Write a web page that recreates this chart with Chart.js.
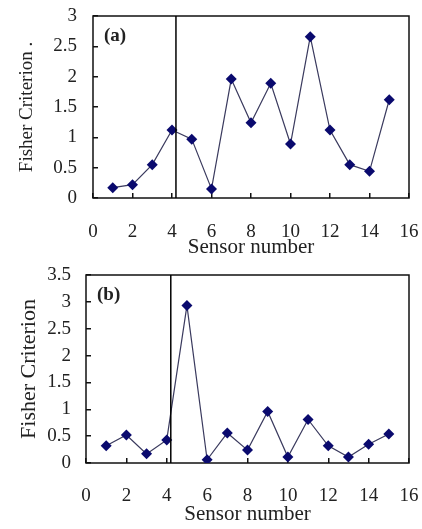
<!DOCTYPE html>
<html>
<head>
<meta charset="utf-8">
<script src="https://cdn.jsdelivr.net/npm/chart.js@4.4.0/dist/chart.umd.min.js"></script>
<style>
  html, body { margin: 0; padding: 0; background: #fff; }
  canvas { display: block; }
</style>
</head>
<body>
<canvas id="chartA" width="422" height="260"></canvas>
<canvas id="chartB" width="422" height="269"></canvas>
<script>
// sensor numbers on the x axis
const sensors = [1, 2, 3, 4, 5, 6, 7, 8, 9, 10, 11, 12, 13, 14, 15];

// Fisher criterion per sensor, panel (a) and (b)
const fisherA = [0.17, 0.22, 0.55, 1.12, 0.97, 0.15, 1.96, 1.24, 1.89, 0.89, 2.66, 1.12, 0.55, 0.44, 1.62];
const fisherB = [0.32, 0.52, 0.17, 0.43, 2.93, 0.06, 0.56, 0.24, 0.96, 0.11, 0.81, 0.32, 0.11, 0.35, 0.54];

// the vertical separator line
const dividerX = 4.2;

const xTicks = { min: 0, max: 16, step: 2 };
const yTicksA = { min: 0, max: 3, step: 0.5 };
const yTicksB = { min: 0, max: 3.5, step: 0.5 };

const serif = "'Liberation Serif', 'DejaVu Serif', serif";

// frame around plot + panel letter
const framePlugin = {
    id: 'frame',
    beforeDatasetsDraw(chart, args, opts) {
        const a = chart.chartArea;
        const ctx = chart.ctx;
        ctx.save();
        ctx.strokeStyle = '#111';
        ctx.lineWidth = 1.5;
        ctx.strokeRect(a.left, a.top, a.right - a.left, a.bottom - a.top);
        ctx.font = 'bold 19px ' + serif;
        ctx.fillStyle = '#222';
        ctx.textBaseline = 'middle';
        ctx.fillText(opts.letter, a.left + 11, a.top + 20);
        ctx.restore();
    }
};

function makeChart(id, values, yT, layout) {
    const points = sensors.map((s, i) => ({ x: s, y: values[i] }));
    const divider = [{ x: dividerX, y: yT.min }, { x: dividerX, y: yT.max }];

    return new Chart(document.getElementById(id), {
        type: 'scatter',
        data: {
            datasets: [
                {
                    data: divider,
                    showLine: true,
                    borderColor: '#000',
                    borderWidth: 1.5,
                    pointRadius: 0
                },
                {
                    data: points,
                    showLine: true,
                    borderColor: '#3a3a5e',
                    borderWidth: 1.2,
                    pointStyle: 'rectRot',
                    pointRadius: 5.5,
                    pointBackgroundColor: '#0a0a6e',
                    pointBorderColor: '#0a0a6e',
                    pointBorderWidth: 0
                }
            ]
        },
        options: {
            responsive: false,
            animation: false,
            devicePixelRatio: 1,
            layout: { padding: { left: 0, top: layout.top, right: 13, bottom: 0 } },
            plugins: {
                legend: { display: false },
                tooltip: { enabled: false },
                frame: { letter: layout.letter }
            },
            scales: {
                x: {
                    type: 'linear',
                    min: xTicks.min,
                    max: xTicks.max,
                    afterFit: (scale) => {
                        scale.height = layout.xHeight;
                        scale.paddingLeft = 0;
                        scale.paddingRight = 0;
                    },
                    ticks: {
                        stepSize: xTicks.step,
                        autoSkip: false,
                        maxRotation: 0,
                        padding: layout.xPad,
                        color: '#222',
                        font: { family: serif, size: 19 }
                    },
                    grid: { drawOnChartArea: false, tickLength: -5, color: '#111', lineWidth: 1.5 },
                    border: { display: false },
                    title: {
                        display: true,
                        text: 'Sensor number',
                        color: '#222',
                        font: { family: serif, size: 21 },
                        padding: { top: 0, bottom: layout.xTitlePad }
                    }
                },
                y: {
                    min: yT.min,
                    max: yT.max,
                    afterFit: (scale) => {
                        scale.width = layout.yWidth;
                        scale.paddingTop = 0;
                        scale.paddingBottom = 0;
                    },
                    ticks: {
                        stepSize: yT.step,
                        autoSkip: false,
                        padding: layout.yPad,
                        color: '#222',
                        font: { family: serif, size: 19 },
                        callback: (v) => String(Number(v.toFixed(1)))
                    },
                    grid: { drawOnChartArea: false, tickLength: -5, color: '#111', lineWidth: 1.5 },
                    border: { display: false },
                    title: {
                        display: true,
                        text: layout.yTitle,
                        color: '#222',
                        font: { family: serif, size: layout.yTitleSize },
                        padding: { top: 16, bottom: 0 }
                    }
                }
            }
        },
        plugins: [framePlugin]
    });
}

makeChart('chartA', fisherA, yTicksA, {
    letter: '(a)', top: 16, xHeight: 62, yWidth: 93, xPad: 28, xTitlePad: 0, yPad: 21,
    yTitle: 'Fisher Criterion .', yTitleSize: 19
});
makeChart('chartB', fisherB, yTicksB, {
    letter: '(b)', top: 15, xHeight: 66, yWidth: 86, xPad: 27, xTitlePad: 2, yPad: 20,
    yTitle: 'Fisher Criterion', yTitleSize: 22
});
</script>
</body>
</html>
